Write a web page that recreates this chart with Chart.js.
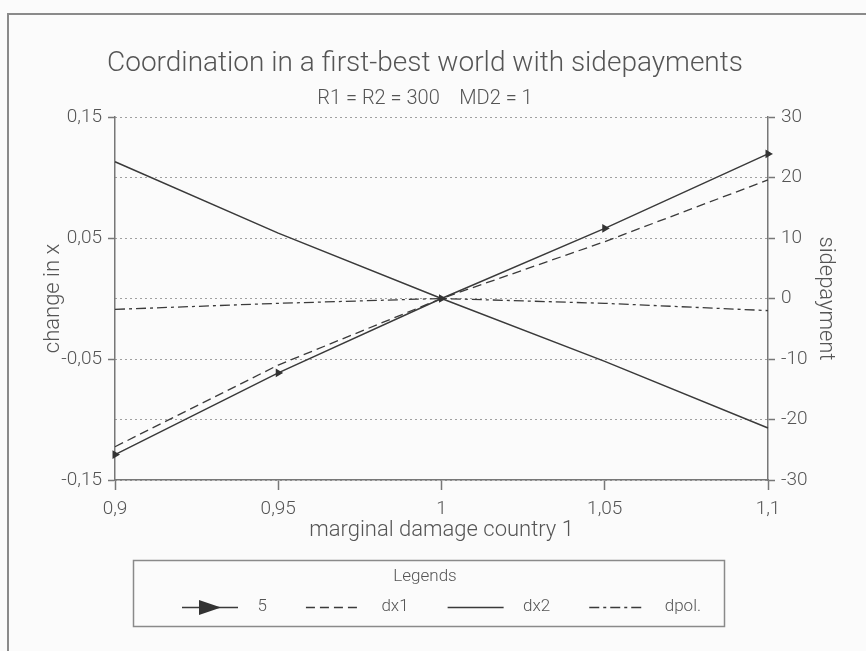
<!DOCTYPE html>
<html>
<head>
<meta charset="utf-8">
<title>Coordination in a first-best world with sidepayments</title>
<script src="https://cdn.jsdelivr.net/npm/chart.js@4"></script>
<style>
  html, body { margin: 0; padding: 0; background: #fbfbfb; overflow: hidden; }
  #wrap { width: 866px; height: 651px; position: relative; }
</style>
</head>
<body>
<div id="wrap"><canvas id="chart"></canvas></div>
<script>
// data
const xLabels = ['0,9', '0,95', '1', '1,05', '1,1'];
const side5 = [-25.8, -12.3, 0, 11.6, 23.9];      // right axis (sidepayment)
const dx1 = [-0.1225, -0.055, 0, 0.047, 0.098];   // left axis (change in x)
const dx2 = [0.113, 0.054, 0, -0.052, -0.107];
const dpol = [-0.009, -0.004, 0, -0.004, -0.01];
const seriesNames = ['5', 'dx1', 'dx2', 'dpol.'];

const FONT = "Roboto, 'Liberation Sans', sans-serif";
const TXT = '#555';
const LINE = '#3a3a3a';
const ICON_W = 100, ICON_PAD = 33;

function comma(v){ return String(+Number(v).toFixed(2)).replace('.', ','); }

// legend samples: a short line (and the arrow head for "5")
function makeIcon(dash, arrow){
  const c = document.createElement('canvas');
  c.width = ICON_W; c.height = 20;
  const g = c.getContext('2d');
  g.strokeStyle = LINE; g.lineWidth = 1.5;
  g.setLineDash(dash);
  g.beginPath(); g.moveTo(ICON_PAD, 10.5); g.lineTo(ICON_PAD + 56, 10.5); g.stroke();
  if(arrow){
    g.fillStyle = '#333';
    g.beginPath(); g.moveTo(ICON_PAD + 17, 3); g.lineTo(ICON_PAD + 39, 10.5); g.lineTo(ICON_PAD + 17, 18); g.closePath(); g.fill();
  }
  return c;
}
const icons = [makeIcon([], true), makeIcon([9, 5]), makeIcon([]), makeIcon([10, 4, 3, 4])];

const framePlugin = {
  id: 'frame',
  beforeDraw(chart){
    const ctx = chart.ctx;
    ctx.save();
    ctx.fillStyle = '#fbfbfb';
    ctx.fillRect(0, 0, chart.width, chart.height);
    ctx.strokeStyle = '#8a8a8a'; ctx.lineWidth = 2;
    ctx.strokeRect(8, 14, 900, 700);
    ctx.restore();
  },
  afterDraw(chart){
    // box round the legend, a bit right of its centre like the original
    const lg = chart.legend;
    const mid = (lg.left + lg.right) / 2 + 3;
    const ctx = chart.ctx;
    ctx.save();
    ctx.strokeStyle = '#8a8a8a'; ctx.lineWidth = 1.5;
    ctx.strokeRect(Math.round(mid - 295) + 0.5, Math.round(lg.top - 5) + 0.5, 591, 66);
    ctx.restore();
  }
};

new Chart(document.getElementById('chart'), {
  type: 'line',
  data: {
    labels: xLabels,
    datasets: [
      { label: seriesNames[0], data: side5, yAxisID: 'y1', borderColor: LINE, borderWidth: 1.5,
        pointStyle: 'triangle', pointRotation: 90, pointRadius: 3.5, pointBackgroundColor: '#333', pointBorderColor: '#333' },
      { label: seriesNames[1], data: dx1, yAxisID: 'y', borderColor: LINE, borderWidth: 1.3, borderDash: [9, 5], pointRadius: 0 },
      { label: seriesNames[2], data: dx2, yAxisID: 'y', borderColor: LINE, borderWidth: 1.5, pointRadius: 0 },
      { label: seriesNames[3], data: dpol, yAxisID: 'y', borderColor: LINE, borderWidth: 1.3, borderDash: [10, 4, 3, 4], pointRadius: 0 }
    ]
  },
  options: {
    responsive: true,
    maintainAspectRatio: false,
    animation: false,
    layout: { padding: { left: -16, right: 0, top: 0, bottom: 25.5 } },
    plugins: {
      title: {
        display: true,
        text: 'Coordination in a first-best world with sidepayments',
        color: TXT,
        font: { family: FONT, size: 28, weight: 300 },
        padding: { top: 47, bottom: 0 }
      },
      subtitle: {
        display: true,
        text: 'R1 = R2 = 300    MD2 = 1',
        color: TXT,
        font: { family: FONT, size: 20, weight: 300 },
        padding: { top: 6.2, bottom: 6.2 }
      },
      legend: {
        display: true,
        position: 'bottom',
        title: { display: true, text: 'Legends', color: TXT, padding: 3.6,
                 font: { family: FONT, size: 17, weight: 300 } },
        labels: {
          color: TXT,
          font: { family: FONT, size: 17, weight: 300 },
          usePointStyle: true,
          pointStyleWidth: ICON_W,
          padding: 6,
          generateLabels(chart){
            const items = Chart.defaults.plugins.legend.labels.generateLabels(chart);
            items.forEach((it, i) => { it.pointStyle = icons[i]; it.rotation = 0; });
            return items;
          }
        }
      },
      tooltip: { enabled: false }
    },
    scales: {
      x: {
        type: 'category',
        offset: false,
        afterFit(scale){ scale.height = 84.9; },
        grid: { display: true, drawOnChartArea: false, tickLength: 10, tickColor: '#777', tickWidth: 1.5 },
        border: { display: true, color: '#777', width: 1.5 },
        ticks: { color: TXT, padding: 8, font: { family: FONT, size: 19, weight: 300 }, maxRotation: 0, autoSkip: false },
        title: { display: true, text: 'marginal damage country 1', color: TXT,
                 font: { family: FONT, size: 22, weight: 300 }, padding: { top: 0, bottom: 21 } }
      },
      y: {
        position: 'left',
        min: -0.15, max: 0.15,
        afterFit(scale){ scale.width = 131; },
        grid: { display: true, drawOnChartArea: false, tickLength: 7, tickColor: '#777', tickWidth: 1.5 },
        border: { display: true, color: '#777', width: 1.5 },
        ticks: { stepSize: 0.1, color: TXT, padding: 6, font: { family: FONT, size: 19, weight: 300 }, callback: v => comma(v) },
        title: { display: true, text: 'change in x', color: TXT,
                 font: { family: FONT, size: 22, weight: 300 }, padding: { top: 55.8, bottom: 0 } }
      },
      y1: {
        position: 'right',
        min: -30, max: 30,
        afterFit(scale){ scale.width = 98; },
        grid: { display: true, drawOnChartArea: true, color: '#a0a0a0', lineWidth: 1,
                tickLength: 7, tickColor: '#777', tickWidth: 1.5, tickBorderDash: [] },
        border: { display: true, color: '#777', width: 1.5, dash: [2, 3] },
        ticks: { stepSize: 10, color: TXT, padding: 6, font: { family: FONT, size: 19, weight: 300 }, callback: v => comma(v) },
        title: { display: true, text: 'sidepayment', color: TXT,
                 font: { family: FONT, size: 22, weight: 300 }, padding: { top: 27.8, bottom: 0 } }
      }
    }
  },
  plugins: [framePlugin]
});
</script>
</body>
</html>
